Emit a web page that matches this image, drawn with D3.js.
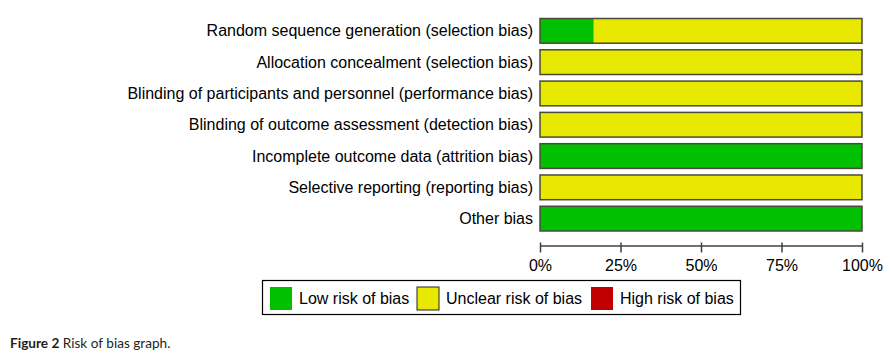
<!DOCTYPE html>
<html>
<head>
<meta charset="utf-8">
<script src="https://cdn.jsdelivr.net/npm/d3@7/dist/d3.min.js"></script>
<style>
  html, body { margin: 0; padding: 0; background: #fff; }
  svg { display: block; }
</style>
</head>
<body>
<svg id="chart" width="892" height="357"></svg>
<script>
// ---- Data ----
const categories = [
  "Random sequence generation (selection bias)",
  "Allocation concealment (selection bias)",
  "Blinding of participants and personnel (performance bias)",
  "Blinding of outcome assessment (detection bias)",
  "Incomplete outcome data (attrition bias)",
  "Selective reporting (reporting bias)",
  "Other bias"
];
const lowRisk     = [16.7, 0, 0, 0, 100, 0, 100];
const unclearRisk = [83.3, 100, 100, 100, 0, 100, 0];
const highRisk    = [0, 0, 0, 0, 0, 0, 0];
const seriesNames = ["Low risk of bias", "Unclear risk of bias", "High risk of bias"];
const tickValues  = [0, 25, 50, 75, 100];

// ---- Styles ----
const colors = { "Low risk of bias": "#00c000", "Unclear risk of bias": "#e8e800", "High risk of bias": "#c00000" };
const font = "'Liberation Sans', Arial, sans-serif";

const svg = d3.select("#chart");

const x = d3.scaleLinear().domain([0, 100]).range([540, 862]);
const y = d3.scaleBand().domain(categories).range([18.5, 231]).paddingInner(0.21).paddingOuter(0);

const rows = categories.map((c, i) => ({ cat: c, values: [lowRisk[i], unclearRisk[i], highRisk[i]] }));
const stacked = [];
rows.forEach(r => {
  let acc = 0;
  r.values.forEach((v, k) => {
    if (v > 0) stacked.push({ cat: r.cat, series: seriesNames[k], x0: acc, x1: acc + v });
    acc += v;
  });
});

// bars
svg.append("g").selectAll("rect").data(stacked).join("rect")
  .attr("x", d => x(d.x0))
  .attr("y", d => y(d.cat))
  .attr("width", d => x(d.x1) - x(d.x0))
  .attr("height", y.bandwidth())
  .attr("fill", d => colors[d.series]);

// bar outlines
svg.append("g").selectAll("rect").data(categories).join("rect")
  .attr("x", x(0))
  .attr("y", d => y(d))
  .attr("width", x(100) - x(0))
  .attr("height", y.bandwidth())
  .attr("fill", "none")
  .attr("stroke", "#4a4a3a")
  .attr("stroke-width", 1.5);

// category labels
svg.append("g").selectAll("text").data(categories).join("text")
  .attr("x", 533)
  .attr("y", d => y(d) + y.bandwidth() / 2)
  .attr("dy", "0.35em")
  .attr("text-anchor", "end")
  .attr("font-family", font)
  .attr("font-size", 16)
  .attr("fill", "#000")
  .text(d => d);

// axis
const axis = d3.axisBottom(x)
  .tickValues(tickValues)
  .tickFormat(d => d + "%")
  .tickSizeInner(7)
  .tickSizeOuter(0)
  .tickPadding(7);
const gAxis = svg.append("g").attr("transform", "translate(0,245.5)").call(axis);
gAxis.select(".domain").attr("stroke", "#404040").attr("stroke-width", 1.5);
gAxis.selectAll(".tick line").attr("stroke", "#404040").attr("stroke-width", 1.5).attr("y1", -3);
gAxis.selectAll(".tick text")
  .attr("font-family", font)
  .attr("font-size", 16)
  .attr("fill", "#000");

// legend
const legend = svg.append("g");
legend.append("rect")
  .attr("x", 262.5).attr("y", 280.5).attr("width", 478).attr("height", 34)
  .attr("fill", "#fff").attr("stroke", "#000").attr("stroke-width", 1.2);
const legendX = [270, 417, 591];
const lg = legend.selectAll("g").data(seriesNames).join("g")
  .attr("transform", (d, i) => `translate(${legendX[i]},287)`);
lg.append("rect")
  .attr("width", 22).attr("height", 23)
  .attr("fill", d => colors[d])
  .attr("stroke", d => d === "Unclear risk of bias" ? "#222" : "none")
  .attr("stroke-width", 1);
lg.append("text")
  .attr("x", 29).attr("y", 11.5).attr("dy", "0.35em")
  .attr("font-family", font).attr("font-size", 16).attr("fill", "#000")
  .text(d => d);

// caption
const cap = svg.append("text")
  .attr("x", 10).attr("y", 348)
  .attr("font-family", "Lato, 'Open Sans', sans-serif")
  .attr("font-size", 13.6)
  .attr("fill", "#231f20");
cap.append("tspan").attr("font-weight", "bold").text("Figure 2");
cap.append("tspan").text(" Risk of bias graph.");
</script>
</body>
</html>
